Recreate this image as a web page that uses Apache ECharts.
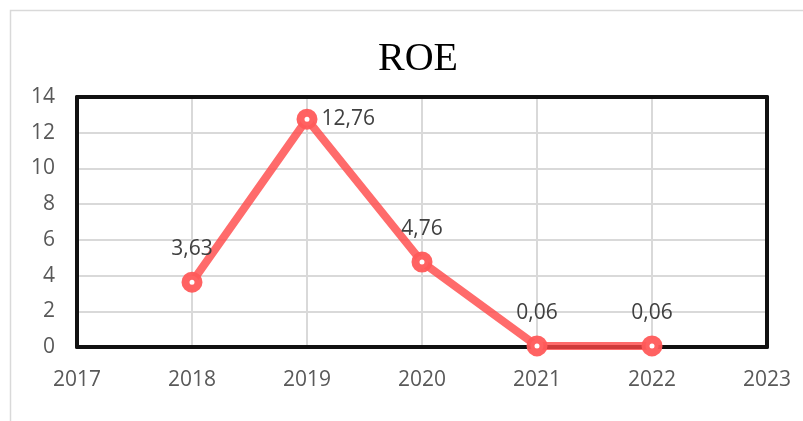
<!DOCTYPE html>
<html>
<head>
<meta charset="utf-8">
<script src="https://cdn.jsdelivr.net/npm/echarts@6/dist/echarts.min.js"></script>
<style>
  html, body { margin: 0; padding: 0; background: #fff; }
  #chart { width: 803px; height: 421px; }
</style>
</head>
<body>
<div id="chart"></div>
<script>
// 数据
var years = [2018, 2019, 2020, 2021, 2022];
var roe = [3.63, 12.76, 4.76, 0.06, 0.06];
var labelPos = ['top', 'right', 'top', 'top', 'top'];

function fmt(v) {
    return v.toFixed(2).replace('.', ',');
}

var chart = echarts.init(document.getElementById('chart'));

var points = years.map(function (y, i) {
    return {
        value: [y, roe[i]],
        label: { position: labelPos[i], distance: labelPos[i] === 'right' ? 4 : 12 }
    };
});

var frame = { show: true, onZero: false, lineStyle: { color: '#111', width: 4 } };

var option = {
    animation: false,
    title: {
        text: 'ROE',
        left: 413,
        top: 34,
        textAlign: 'center',
        textStyle: {
            fontFamily: 'Liberation Serif',
            fontWeight: 'normal',
            fontSize: 40,
            color: '#000'
        }
    },
    graphic: [{
        type: 'rect',
        shape: { x: 10.5, y: 10.5, width: 820, height: 450 },
        style: { fill: 'none', stroke: '#d9d9d9', lineWidth: 1.5 },
        silent: true
    }],
    grid: {
        left: 77,
        right: 36,
        top: 97,
        bottom: 74
    },
    xAxis: [{
        type: 'value',
        min: 2017,
        max: 2023,
        interval: 1,
        axisLine: frame,
        axisTick: { show: false },
        axisLabel: {
            margin: 23,
            fontSize: 21,
            color: '#595959',
            fontFamily: 'Open Sans',
            formatter: function (v) { return String(v); }
        },
        splitLine: { lineStyle: { color: '#d9d9d9', width: 2 } }
    }, {
        type: 'value',
        position: 'top',
        min: 2017,
        max: 2023,
        interval: 1,
        axisLine: frame,
        axisTick: { show: false },
        axisLabel: { show: false },
        splitLine: { show: false }
    }],
    yAxis: [{
        type: 'value',
        min: 0,
        max: 14,
        interval: 2,
        axisLine: frame,
        axisTick: { show: false },
        axisLabel: {
            margin: 22,
            fontSize: 21,
            color: '#595959',
            fontFamily: 'Open Sans'
        },
        splitLine: { lineStyle: { color: '#d9d9d9', width: 2 } }
    }, {
        type: 'value',
        position: 'right',
        min: 0,
        max: 14,
        interval: 2,
        axisLine: frame,
        axisTick: { show: false },
        axisLabel: { show: false },
        splitLine: { show: false }
    }],
    series: [{
        name: 'ROE',
        type: 'line',
        data: points,
        symbol: 'circle',
        symbolSize: 13,
        itemStyle: {
            color: '#fff',
            borderColor: 'rgba(255,90,90,0.95)',
            borderWidth: 8
        },
        lineStyle: {
            color: 'rgba(255,70,70,0.8)',
            width: 8
        },
        label: {
            show: true,
            fontSize: 21,
            color: '#404040',
            fontFamily: 'Open Sans',
            formatter: function (p) { return fmt(p.value[1]); }
        }
    }]
};

chart.setOption(option);
</script>
</body>
</html>
